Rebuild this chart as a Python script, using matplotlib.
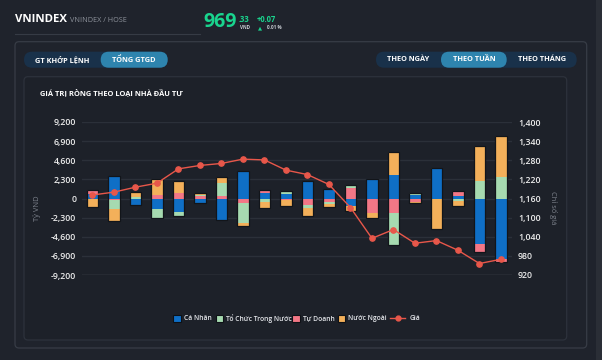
import numpy as np
import matplotlib
matplotlib.use("Agg")
import matplotlib.pyplot as plt
from matplotlib.patches import FancyBboxPatch, Rectangle
from matplotlib.lines import Line2D

plt.rcParams['font.family'] = ['Open Sans', 'DejaVu Sans']

# weekly net value by investor type (ty VND)
ca_nhan = [520, 2730, -760, -1280, -1600, -600, -2570, 3290, 720, 550,
           2090, 1120, -880, 2370, 2840, 400, 3490, 320, -5500, -7300]
tu_doanh = [520, -200, 0, 400, 640, 350, 320, -560, 320, -150,
            -760, -480, 1320, -1800, -1770, -400, 80, 600, -880, -280]
to_chuc = [0, -1080, 200, -1080, -480, 100, 1600, -2330, -400, 300,
           -360, -200, 280, 0, -3850, 250, 150, -280, 2130, 2530]
nuoc_ngoai = [-1080, -1400, 560, 2000, 1480, 250, 680, -400, -700, -750,
              -960, -400, -600, -500, 2800, -150, -3690, -600, 4210, 5010]
gia = [1171, 1180, 1195.5, 1208, 1253, 1263.7, 1270, 1283.5, 1281, 1249,
       1235, 1204, 1131.7, 1035, 1062.6, 1019.6, 1028, 997.6, 956, 969.33]

left_ticks = [-9200, -6900, -4600, -2300, 0, 2300, 4600, 6900, 9200]
right_ticks = [920, 980, 1040, 1100, 1160, 1220, 1280, 1340, 1400]

BG = '#1f232c'
PANEL = '#1d2129'
C_BLUE = '#0f6fc6'
C_GREEN = '#a6dab0'
C_PINK = '#f27786'
C_ORANGE = '#f3b05a'
C_LINE = '#e8574a'

W, H = 602, 360
fig = plt.figure(figsize=(W / 100, H / 100), dpi=100, facecolor=BG)


def box(x0, y0, x1, y1, fc, ec='none', r=0.0, lw=1.0, z=0):
    # pixel coords, top-left origin
    p = FancyBboxPatch((x0 / 100, (H - y1) / 100), (x1 - x0) / 100, (y1 - y0) / 100,
                       boxstyle="round,pad=0,rounding_size=%f" % (r / 100),
                       transform=fig.dpi_scale_trans, facecolor=fc, edgecolor=ec,
                       linewidth=lw, zorder=z)
    fig.patches.append(p)


def txt(x, y, s, **kw):
    fig.text(x / W, 1 - y / H, s, **kw)


# header
txt(15, 20, 'VNINDEX', color='white', fontsize=8.2, fontweight='bold', va='center')
txt(70, 21, 'VNINDEX / HOSE', color='#8d929b', fontsize=5.2, va='center')
fig.lines.append(Line2D([15 / W, 200 / W], [1 - 33.5 / H] * 2, color='#363b45', lw=0.8,
                        transform=fig.transFigure))
txt(203, 22, '969', color='#19d48e', fontsize=14, fontweight='bold', va='center')
txt(239, 19.5, '.33', color='#19d48e', fontsize=5.5, fontweight='bold', va='center')
txt(240, 27.5, 'VND', color='#c8ccd2', fontsize=3.3, fontweight='bold', va='center')
txt(257, 19.5, '+0.07', color='#19d48e', fontsize=5.5, fontweight='bold', va='center')
txt(258, 27.5, '\u25b2', color='#19d48e', fontsize=3.8, va='center')
txt(267, 27.5, '0.01 %', color='#c8ccd2', fontsize=3.3, fontweight='bold', va='center')

# cards
box(15, 41.7, 586.7, 348, BG, ec='#373c46', r=4, lw=0.9)
box(24, 76.7, 566.7, 340, PANEL, ec='#2d323c', r=4, lw=0.9)

# toggle pills
box(24, 51.7, 167.7, 67.7, '#19314a', r=8)
box(100.7, 51.7, 167.7, 67.7, '#2e84ae', r=8, z=1)
txt(62, 59.7, 'GT KHỚP LỆNH', color='white', fontsize=5.3, fontweight='bold', ha='center', va='center')
txt(134, 59.7, 'TỔNG GTGD', color='white', fontsize=5.3, fontweight='bold', ha='center', va='center')
box(376, 51.7, 576.7, 67.7, '#19314a', r=8)
box(441, 51.7, 506.7, 67.7, '#2e84ae', r=8, z=1)
txt(408, 59.7, 'THEO NGÀY', color='white', fontsize=5.3, fontweight='bold', ha='center', va='center')
txt(474, 59.7, 'THEO TUẦN', color='white', fontsize=5.3, fontweight='bold', ha='center', va='center')
txt(542, 59.7, 'THEO THÁNG', color='white', fontsize=5.3, fontweight='bold', ha='center', va='center')

# scrollbar strip
box(596, 0, 602, 360, '#2a2e36')

txt(40.5, 93, 'GIÁ TRỊ RÒNG THEO LOẠI NHÀ ĐẦU TƯ', color='white', fontsize=5.4,
    fontweight='bold', va='center')

# chart axes
ax_l, ax_r, ax_t, ax_b = 81.7, 511.7, 122.0, 275.0
ax = fig.add_axes([ax_l / W, 1 - ax_b / H, (ax_r - ax_l) / W, (ax_b - ax_t) / H])
ax.set_facecolor('none')
ax.set_zorder(5)
x = np.arange(len(gia))
bw = 0.52

series = [(ca_nhan, C_BLUE), (tu_doanh, C_PINK), (to_chuc, C_GREEN), (nuoc_ngoai, C_ORANGE)]
pos_base = np.zeros(len(x))
neg_base = np.zeros(len(x))
for vals, col in series:
    v = np.array(vals, dtype=float)
    pv = np.where(v > 0, v, 0)
    nv = np.where(v < 0, v, 0)
    ax.bar(x, pv, bw, bottom=pos_base, color=col, linewidth=0, zorder=3)
    ax.bar(x, nv, bw, bottom=neg_base, color=col, linewidth=0, zorder=3)
    pos_base += pv
    neg_base += nv
# dark outline around each stack
ax.bar(x, pos_base - neg_base, bw, bottom=neg_base, facecolor='none',
       edgecolor='#12151a', linewidth=0.9, zorder=4)

ax.set_xlim(-0.5, len(x) - 0.5)
ax.set_ylim(-9200, 9200)
ax.set_yticks(left_ticks)
ax.set_yticklabels([f'{t:,}' for t in left_ticks])
ax.set_xticks([])
for t in left_ticks:
    ax.axhline(t, color='#2b3039' if t != -9200 else '#4b5059', lw=1.0, zorder=1)
for s in ax.spines.values():
    s.set_visible(False)
ax.tick_params(axis='y', length=0, pad=4, labelsize=6.3, labelcolor='#ececec')
for lab in ax.get_yticklabels():
    lab.set_fontweight('semibold')

ax2 = ax.twinx()
ax2.set_facecolor('none')
ax2.set_zorder(6)
ax2.plot(x, gia, color=C_LINE, lw=1.0, marker='o', markersize=3.8, zorder=5)
ax2.set_ylim(920, 1400)
ax2.set_yticks(right_ticks)
ax2.set_yticklabels([f'{t:,}' for t in right_ticks])
for s in ax2.spines.values():
    s.set_visible(False)
ax2.tick_params(axis='y', length=0, pad=4.5, labelsize=6.3, labelcolor='#ececec')
for lab in ax2.get_yticklabels():
    lab.set_fontweight('semibold')

txt(37.5, 208, 'Tỷ VND', color='#7d828c', fontsize=5.4, rotation=90, ha='center', va='center')
txt(553, 208, 'Chỉ số giá', color='#7d828c', fontsize=5.4, rotation=270, ha='center', va='center')

# legend
leg_items = [(173.3, 184.3, C_BLUE, 'Cá Nhân'), (215.7, 226.5, C_GREEN, 'Tổ Chức Trong Nước'),
             (292.3, 302.8, C_PINK, 'Tự Doanh'), (337.7, 348.2, C_ORANGE, 'Nước Ngoài')]
ly = 318.3
for sx, tx, col, lab in leg_items:
    fig.patches.append(Rectangle((sx / W, 1 - (ly + 3.6) / H), 7.2 / W, 7.2 / H,
                                 transform=fig.transFigure, facecolor=col,
                                 edgecolor='#0e1116', lw=0.8, zorder=3))
    txt(tx, ly, lab, color='#e4e6ea', fontsize=4.9, fontweight='semibold', va='center')
fig.lines.append(Line2D([390 / W, 405 / W], [1 - ly / H] * 2, color=C_LINE, lw=1.0,
                        transform=fig.transFigure, zorder=3))
fig.lines.append(Line2D([397.5 / W], [1 - ly / H], color=C_LINE, marker='o', markersize=3.5,
                        transform=fig.transFigure, zorder=3))
txt(409.3, ly, 'Giá', color='#e4e6ea', fontsize=4.9, fontweight='semibold', va='center')

fig.savefig('out.png', dpi=100, facecolor=BG)
